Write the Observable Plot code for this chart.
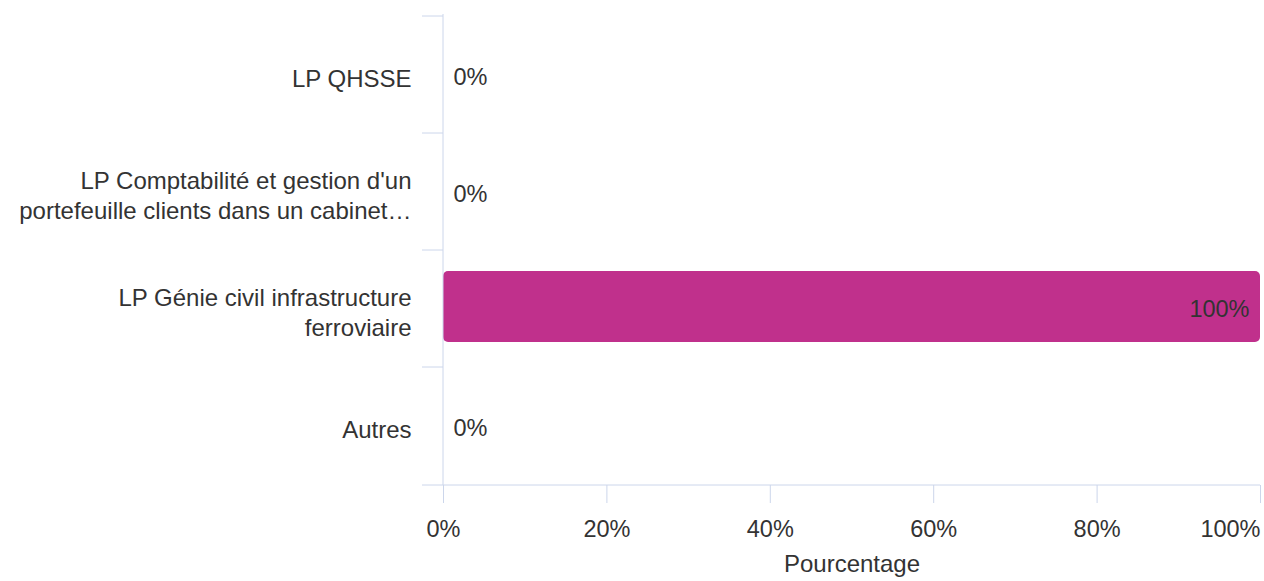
<!DOCTYPE html>
<html>
<head>
<meta charset="utf-8">
<script src="https://cdn.jsdelivr.net/npm/d3@7"></script>
<script src="https://cdn.jsdelivr.net/npm/@observablehq/plot@0.6"></script>
<style>
  html, body { margin: 0; padding: 0; background: #fff; }
</style>
</head>
<body>
<div id="chart"></div>
<script>
const categories = [
  "LP QHSSE",
  "LP Comptabilité et gestion d'un portefeuille clients dans un cabinet…",
  "LP Génie civil infrastructure ferroviaire",
  "Autres"
];
const tickLabels = [
  "LP QHSSE",
  "LP Comptabilité et gestion d'un\nportefeuille clients dans un cabinet…",
  "LP Génie civil infrastructure\nferroviaire",
  "Autres"
];
const values = [0, 0, 100, 0];
const xTicks = [0, 20, 40, 60, 80, 100];
const xLabel = "Pourcentage";

const data = categories.map((c, i) => ({category: c, value: values[i]}));
const axisColor = "#ccd6eb";
const textColor = "#333333";
const barColor = "#c0308c";
const fsLabel = 24;
const fsNum = 23.5;
const pct = d => d + "%";

function gridFrame(index, scales, channels, dims) {
  const y = scales.y;
  const g = d3.create("svg:g");
  const top = dims.marginTop, bottom = dims.height - dims.marginBottom;
  const left = dims.marginLeft, right = dims.width - dims.marginRight;
  const bounds = categories.map(c => y(c)).concat([bottom]);
  g.selectAll("line.b").data(bounds).join("line")
    .attr("x1", left - 21).attr("x2", left)
    .attr("y1", d => d).attr("y2", d => d)
    .attr("stroke", axisColor);
  g.append("line").attr("x1", left).attr("x2", left).attr("y1", top).attr("y2", bottom).attr("stroke", axisColor);
  g.append("line").attr("x1", left).attr("x2", right).attr("y1", bottom).attr("y2", bottom).attr("stroke", axisColor);
  return g.node();
}

const chart = Plot.plot({
  width: 1264,
  height: 581,
  marginLeft: 443,
  marginRight: 4,
  marginTop: 14,
  marginBottom: 96,
  style: {fontFamily: "'Liberation Sans', Arial, sans-serif", fontSize: fsLabel + "px", color: textColor, background: "#fff"},
  x: {domain: [0, 100]},
  y: {domain: categories, padding: 0},
  marks: [
    Plot.barX(data, {x: "value", y: "category", fill: barColor, insetTop: 21, insetBottom: 25, rx: 5}),
    gridFrame,
    Plot.axisY({tickSize: 0, tickPadding: 32, fontSize: fsLabel, lineHeight: 1.275, label: null, dy: 2,
      tickFormat: d => tickLabels[categories.indexOf(d)], textOverflow: null}),
    Plot.axisX({ticks: xTicks.slice(0, -1), tickSize: 18, tickPadding: 17, fontSize: fsNum, label: null,
      stroke: axisColor, tickFormat: pct}),
    Plot.axisX({ticks: xTicks.slice(-1), tickSize: 18, tickPadding: 17, fontSize: fsNum, label: null,
      stroke: axisColor, tickFormat: pct, textAnchor: "end", dx: 0}),
    Plot.text(data.filter(d => d.value < 50), {x: "value", y: "category", text: d => pct(d.value),
      textAnchor: "start", dx: 10, dy: 2, fontSize: fsNum, fill: textColor}),
    Plot.text(data.filter(d => d.value >= 50), {x: "value", y: "category", text: d => pct(d.value),
      textAnchor: "end", dx: -11, fontSize: fsNum, fill: textColor}),
    Plot.text([xLabel], {frameAnchor: "bottom", text: d => d, dy: 86, fontSize: fsLabel, fill: textColor, x: null})
  ]
});
document.getElementById("chart").appendChild(chart);
</script>
</body>
</html>
